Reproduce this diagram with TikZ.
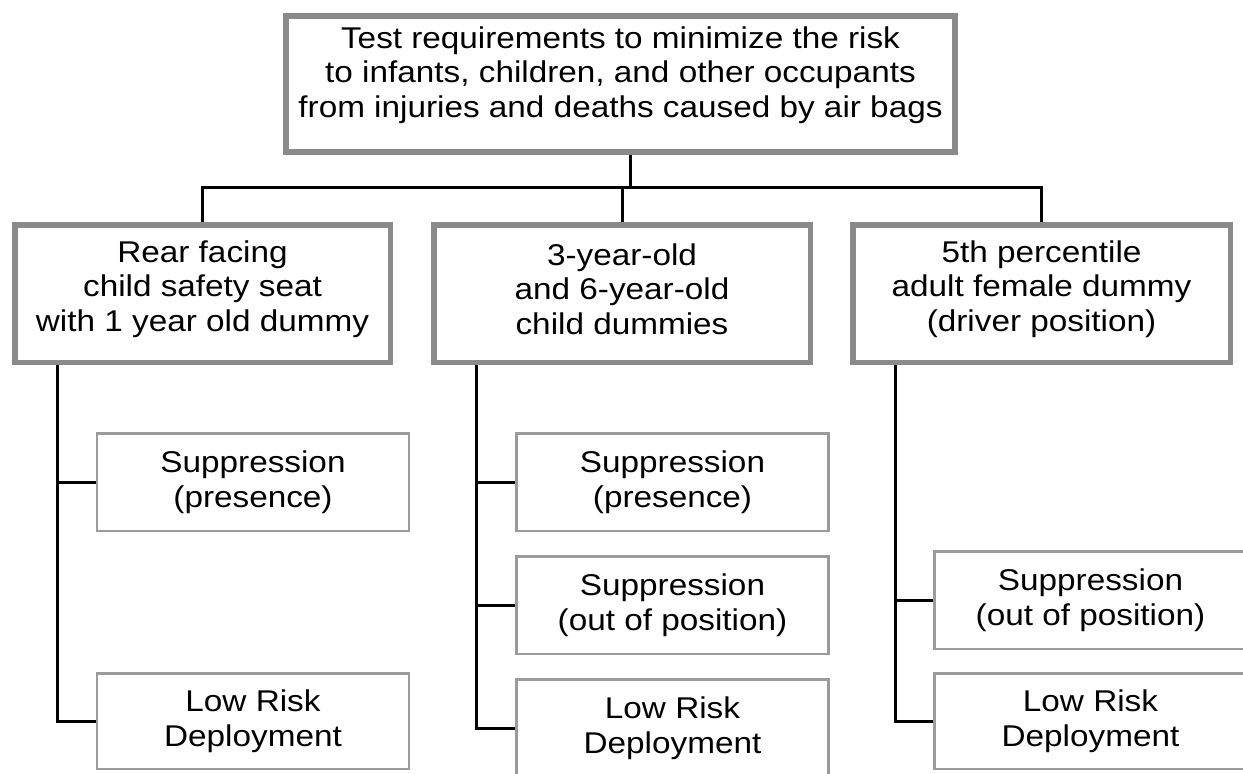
\documentclass[tikz,border=0pt]{standalone}
\usepackage{fontspec}
\setmainfont{Liberation Sans}[FakeStretch=1.11]
\definecolor{boxgray}{RGB}{138,138,138}
\definecolor{subgray}{RGB}{155,155,155}
\pgfdeclarelayer{paper}
\pgfdeclarelayer{wires}
\pgfsetlayers{paper,wires,main}
\tikzset{
  plain/.style={align=center, inner sep=0pt, font=\fontsize{30}{34.5}\selectfont},
  mainbox/.style={draw=boxgray, fill=white, line width=5.5pt, inner sep=0pt},
  subbox/.style={plain, draw=subgray, fill=white, line width=2.5pt, minimum width=312pt, minimum height=97.5pt},
  link/.style={line width=3pt, black}
}
\begin{document}
\begin{tikzpicture}[x=1pt,y=-1pt]
\begin{pgfonlayer}{paper}
  \fill[white] (0,0) rectangle (1243,774);
\end{pgfonlayer}
\useasboundingbox (0,0) rectangle (1243,774);
\clip (0,0) rectangle (1243,774);

% top
\node[mainbox, minimum width=669pt, minimum height=136pt] (T) at (620.5,84) {};
\node[plain] (Tt) at (620.5,75)
  {Test requirements to minimize the risk\\to infants, children, and other occupants\\from injuries and deaths caused by air bags};

% level 1
\node[mainbox, minimum width=375.5pt, minimum height=137.5pt] (L1) at (202.5,293.5) {};
\node[plain] (L1t) at (202.5,289) {Rear facing\\child safety seat\\with 1 year old dummy};
\node[mainbox, minimum width=376.5pt, minimum height=137.5pt] (M1) at (622,293.5) {};
\node[plain] (M1t) at (622,289) {3-year-old\\and 6-year-old\\child dummies};
\node[mainbox, minimum width=377.5pt, minimum height=137.5pt] (R1) at (1041.5,293.5) {};
\node[plain] (R1t) at (1041.5,289) {5th percentile\\adult female dummy\\(driver position)};

% level 2 left
\node[subbox] (LS) at (253,482) {Suppression\\(presence)};
\node[subbox, minimum height=95.5pt] (LL) at (253,721) {Low Risk\\Deployment};

% level 2 middle
\node[subbox] (MS) at (672.5,482) {Suppression\\(presence)};
\node[subbox] (MO) at (672.5,605) {Suppression\\(out of position)};
\node[subbox] (ML) at (672.5,728) {Low Risk\\Deployment};

% level 2 right
\node[subbox] (RO) at (1090.5,600) {Suppression\\(out of position)};
\node[subbox, minimum height=95.5pt] (RL) at (1090.5,721) {Low Risk\\Deployment};

% connectors
\coordinate (j) at (630,187);
\coordinate (lv) at (57,0);
\coordinate (mv) at (476,0);
\coordinate (rv) at (895,0);
\begin{pgfonlayer}{wires}
  \draw[link] (T.south -| j) -- (j);
  \draw[link] (L1.north) -- (L1.north |- j) -- (R1.north |- j) -- (R1.north);
  \draw[link] (M1.north) -- (M1.north |- j);

  \draw[link] (L1.south -| lv) |- (LL.west);
  \draw[link] (lv |- LS.west) -- (LS.west);

  \draw[link] (M1.south -| mv) |- (ML.west);
  \draw[link] (mv |- MS.west) -- (MS.west);
  \draw[link] (mv |- MO.west) -- (MO.west);

  \draw[link] (R1.south -| rv) |- (RL.west);
  \draw[link] (rv |- RO.west) -- (RO.west);
\end{pgfonlayer}
\end{tikzpicture}
\end{document}
